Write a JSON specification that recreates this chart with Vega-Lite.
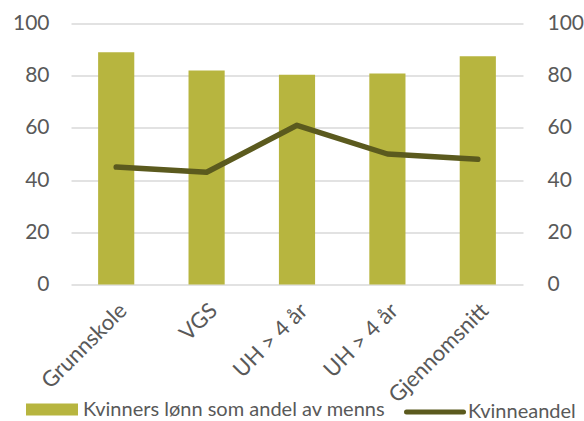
{
  "$schema": "https://vega.github.io/schema/vega-lite/v6.json",
  "autosize": {"type": "none"},
  "width": 452,
  "height": 261,
  "padding": {"left": 71, "top": 23.5, "right": 61, "bottom": 136.5},
  "background": "white",
  "config": {
    "view": {"stroke": null},
    "font": "Lato",
    "axis": {"labelFont": "Lato", "labelColor": "#595959", "labelFontSize": 21, "domain": false, "ticks": false, "title": null},
    "legend": {"labelFont": "Lato", "labelColor": "#595959", "labelFontSize": 20, "labelLimit": 500, "title": null, "padding": 0}
  },
  "data": {
    "values": [
      {"nr": 1, "kategori": "Grunnskole", "lonn": 89, "kvinneandel": 45},
      {"nr": 2, "kategori": "VGS", "lonn": 82, "kvinneandel": 43},
      {"nr": 3, "kategori": "UH > 4 år", "lonn": 80.4, "kvinneandel": 61},
      {"nr": 4, "kategori": "UH > 4 år", "lonn": 80.8, "kvinneandel": 50},
      {"nr": 5, "kategori": "Gjennomsnitt", "lonn": 87.5, "kvinneandel": 48}
    ]
  },
  "encoding": {
    "x": {
      "field": "nr",
      "type": "ordinal",
      "scale": {"paddingInner": 0.6, "paddingOuter": 0.3},
      "axis": {
        "labelAngle": -45,
        "labelPadding": 15,
        "labelFontSize": 22,
        "labelExpr": "['Grunnskole','VGS','UH > 4 år','UH > 4 år','Gjennomsnitt'][datum.value - 1]",
        "grid": false
      }
    }
  },
  "layer": [
    {
      "mark": {"type": "bar", "color": "#B7B53F"},
      "encoding": {
        "y": {
          "field": "lonn",
          "type": "quantitative",
          "scale": {"domain": [0, 100]},
          "axis": {"orient": "left", "values": [0, 20, 40, 60, 80, 100], "grid": true, "gridColor": "#D9D9D9", "gridWidth": 1.5, "labelPadding": 22}
        },
        "color": {
          "datum": "Kvinners lønn som andel av menns",
          "scale": {"range": ["#B7B53F"]},
          "legend": {
            "orient": "none",
            "legendX": -45,
            "legendY": 360,
            "symbolType": "M-1,-0.23H1V0.23H-1Z",
            "symbolSize": 2704,
            "symbolStrokeWidth": 0,
            "labelOffset": 5
          }
        }
      }
    },
    {
      "mark": {"type": "line", "color": "#5B5A1E", "strokeWidth": 5.5, "strokeCap": "round", "strokeJoin": "round"},
      "encoding": {
        "y": {
          "field": "kvinneandel",
          "type": "quantitative",
          "scale": {"domain": [0, 100]},
          "axis": {"orient": "right", "values": [0, 20, 40, 60, 80, 100], "grid": false, "labelPadding": 24}
        },
        "stroke": {
          "datum": "Kvinneandel",
          "scale": {"range": ["#5B5A1E"]},
          "legend": {
            "orient": "none",
            "legendX": 333,
            "legendY": 357.5,
            "symbolType": "stroke",
            "symbolSize": 3249,
            "symbolStrokeWidth": 5,
            "labelOffset": 2,
            "encode": {"symbols": {"update": {"strokeCap": {"value": "round"}}}}
          }
        }
      }
    }
  ],
  "resolve": {"scale": {"y": "independent", "color": "independent"}}
}
